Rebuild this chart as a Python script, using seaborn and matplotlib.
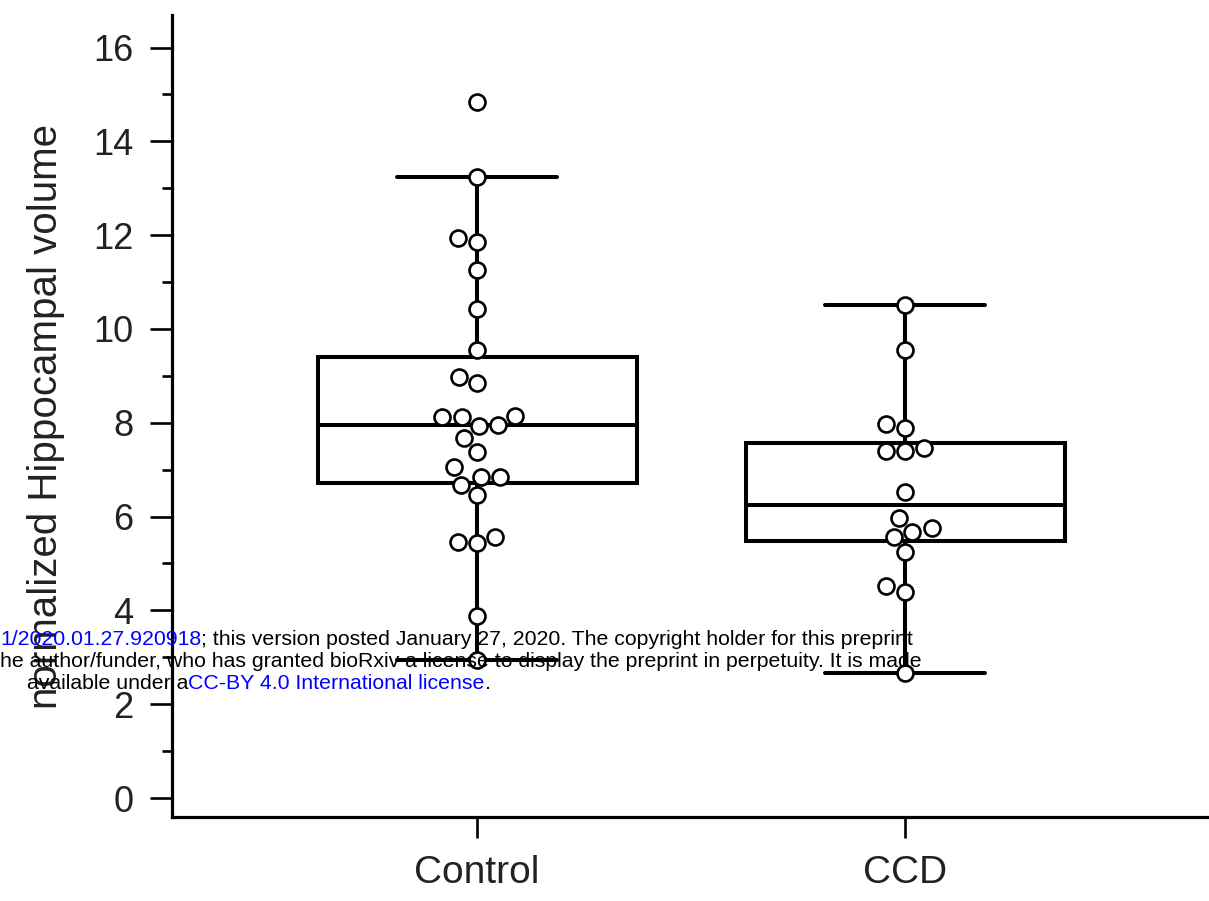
import numpy as np
import pandas as pd
import seaborn as sns
import matplotlib
matplotlib.use("Agg")
import matplotlib.pyplot as plt
from matplotlib.ticker import MultipleLocator

# values
groups = ["Control", "CCD"]
control_vals = [14.84, 13.23, 11.94, 11.85, 11.25, 10.43, 9.56, 8.97, 8.85,
                8.15, 8.13, 8.13, 7.96, 7.94, 7.67, 7.37, 7.05, 6.85, 6.85,
                6.68, 6.46, 5.57, 5.45, 5.43, 3.89, 2.94]
ccd_vals = [10.52, 9.56, 7.98, 7.89, 7.46, 7.39, 7.39, 6.53, 5.97, 5.75,
            5.68, 5.57, 5.25, 4.51, 4.40, 2.67]
y_ticks = [0, 2, 4, 6, 8, 10, 12, 14, 16]
y_label = "normalized Hippocampal volume"

# bioRxiv stamp that sits over the figure
stamp_1 = [("1/2020.01.27.920918", "blue"),
           ("; this version posted January 27, 2020. The copyright holder for this preprint", "black")]
stamp_2 = [("he author/funder, who has granted bioRxiv a license to display the preprint in perpetuity. It is made", "black")]
stamp_3 = [("available under a", "black"), ("CC-BY 4.0 International license", "blue"), (".", "black")]

df = pd.DataFrame({
    "group": ["Control"] * len(control_vals) + ["CCD"] * len(ccd_vals),
    "volume": control_vals + ccd_vals,
})

sns.set_theme(style="ticks")
plt.rcParams["font.family"] = ["Liberation Sans", "DejaVu Sans"]

fig = plt.figure(figsize=(12.09, 9.01), dpi=100)
ax = fig.add_axes([0.1423, 0.0932, 0.8577, 0.890])

sns.boxplot(data=df, x="group", y="volume", order=groups, color="white",
            linecolor="black", linewidth=2.9, width=0.745, showfliers=False,
            ax=ax)
sns.swarmplot(data=df, x="group", y="volume", order=groups, color="white",
              edgecolor="black", linewidth=1.9, size=11.5, zorder=5, ax=ax)

ax.set_xlim(-0.713, 1.71)
ax.set_ylim(-0.405, 16.69)
ax.set_yticks(y_ticks)
ax.yaxis.set_minor_locator(MultipleLocator(1))
sns.despine(ax=ax)
for s in ["left", "bottom"]:
    ax.spines[s].set_linewidth(2.3)
    ax.spines[s].set_color("black")

ax.tick_params(axis="y", which="major", length=16, width=1.9, pad=12,
               labelsize=26, colors="black", labelcolor="#222222")
ax.tick_params(axis="y", which="minor", length=7, width=1.9, colors="black")
ax.tick_params(axis="x", which="major", length=15, width=1.9, pad=12,
               labelsize=28, colors="black", labelcolor="#222222")

ax.set_xlabel("")
ax.set_ylabel(y_label, fontsize=29, color="#222222", labelpad=20)

fs = 15.3


# chain the coloured pieces of each line one after another
def chain(pieces, x, y):
    prev = fig.text(x, y, pieces[0][0], color=pieces[0][1], fontsize=fs,
                    va="baseline", ha="left", zorder=10)
    for txt, col in pieces[1:]:
        prev = ax.annotate(txt, xy=(1, 0), xycoords=prev, color=col,
                           fontsize=fs, va="bottom", ha="left",
                           annotation_clip=False, zorder=10)


chain(stamp_1, 0.0, 1 - 645 / 901)
chain(stamp_2, 0.0, 1 - 667 / 901)
chain(stamp_3, 27 / 1209, 1 - 689 / 901)

fig.savefig("out.png", dpi=100)
